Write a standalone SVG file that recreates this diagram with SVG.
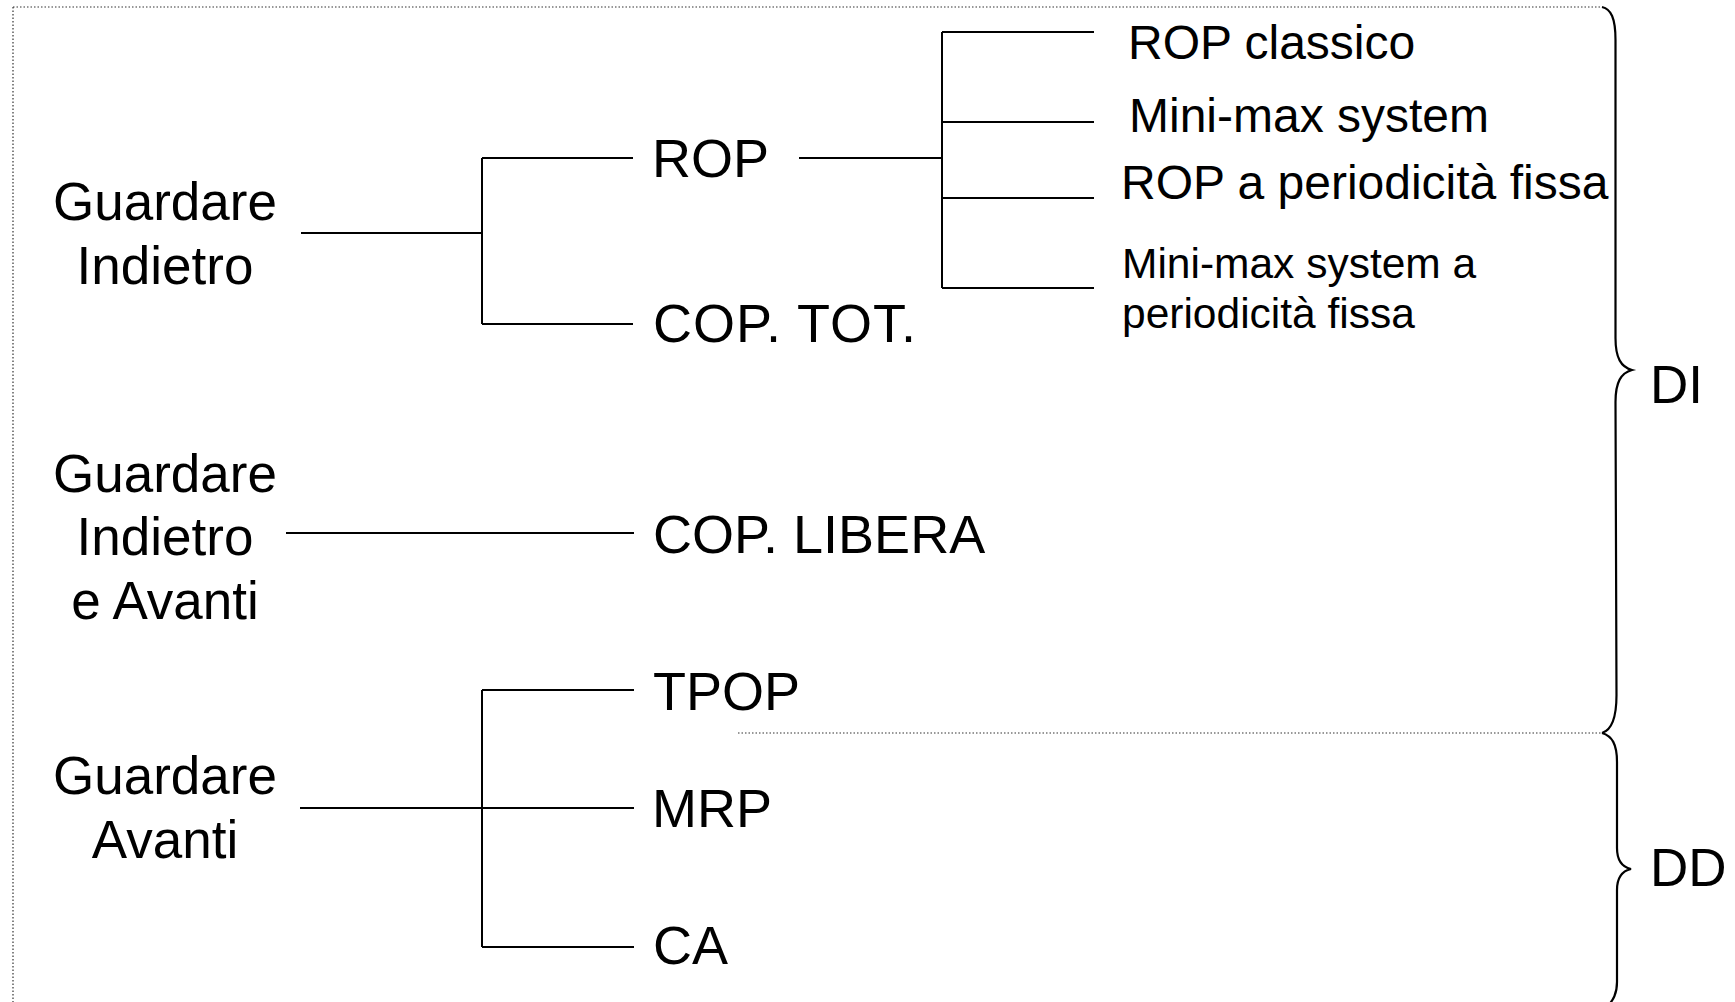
<svg xmlns="http://www.w3.org/2000/svg" width="1735" height="1002" viewBox="0 0 1735 1002">
<style>
.t{font-family:"Liberation Sans",Arial,sans-serif;fill:#000}
.big{font-size:53px}
.col{font-size:54px}
.mid{font-size:48px}
.sm{font-size:42.5px}
.c{text-anchor:middle}
.ln{stroke:#000;stroke-width:2;fill:none}
.br{stroke:#000;stroke-width:2.2;fill:none}
.dot{stroke:#333;stroke-width:1.2;stroke-dasharray:1.5 2;fill:none}
</style>
<rect width="1735" height="1002" fill="#fff"/>
<g id="frame">
<line class="dot" x1="13" y1="7" x2="1602" y2="7"/>
<line class="dot" x1="13" y1="7" x2="13" y2="1002"/>
<line class="dot" x1="738" y1="733" x2="1602" y2="733"/>
</g>
<g id="connectors">
<path class="ln" d="M301,233 H482 M482,158 V324 M482,158 H633 M482,324 H633"/>
<path class="ln" d="M799,158 H942 M942,32 V288 M942,32 H1094 M942,122 H1094 M942,198 H1094 M942,288 H1094"/>
<path class="ln" d="M286,533 H634"/>
<path class="ln" d="M300,808 H482 M482,690 V947 M482,690 H634 M482,808 H634 M482,947 H634"/>
</g>
<g id="brace-di">
<path class="br" d="M1602,7 C1611,9 1615.5,18 1615.5,40 L1615.5,338 C1615.5,358 1621,367 1632,370 C1621,373 1615.5,382 1615.5,402 L1616.5,695 C1616.5,716 1612,730 1602,733"/>
</g>
<g id="brace-dd">
<path class="br" d="M1602,733 C1612,736 1617,744 1617,762 L1617,848 C1617,861 1622,867 1631,869 C1622,871 1617,877 1617,890 L1617,982 C1617,994 1613,1000 1608,1006"/>
</g>
<g id="n-guardare-indietro">
<text class="t big c" x="165" y="220">Guardare</text>
<text class="t big c" x="165" y="284">Indietro</text>
</g>
<g id="n-guardare-indietro-avanti">
<text class="t big c" x="165" y="492">Guardare</text>
<text class="t big c" x="165" y="555">Indietro</text>
<text class="t big c" x="165" y="619">e Avanti</text>
</g>
<g id="n-guardare-avanti">
<text class="t big c" x="165" y="794">Guardare</text>
<text class="t big c" x="165" y="858">Avanti</text>
</g>
<g id="n-rop"><text class="t col" x="652" y="177">ROP</text></g>
<g id="n-coptot"><text class="t col" x="653" y="342" textLength="263" lengthAdjust="spacing">COP. TOT.</text></g>
<g id="n-coplibera"><text class="t col" x="653" y="553">COP. LIBERA</text></g>
<g id="n-tpop"><text class="t col" x="653" y="710">TPOP</text></g>
<g id="n-mrp"><text class="t col" x="652" y="827">MRP</text></g>
<g id="n-ca"><text class="t col" x="653" y="964">CA</text></g>
<g id="n-rop-classico"><text class="t mid" x="1128" y="59">ROP classico</text></g>
<g id="n-minimax"><text class="t mid" x="1129" y="132">Mini-max system</text></g>
<g id="n-rop-periodicita"><text class="t mid" x="1121" y="199">ROP a periodicità fissa</text></g>
<g id="n-minimax-periodicita">
<text class="t sm" x="1122" y="278">Mini-max system a</text>
<text class="t sm" x="1122" y="328">periodicità fissa</text>
</g>
<g id="n-di"><text class="t big" x="1650" y="403">DI</text></g>
<g id="n-dd"><text class="t big" x="1650" y="886">DD</text></g>
</svg>
